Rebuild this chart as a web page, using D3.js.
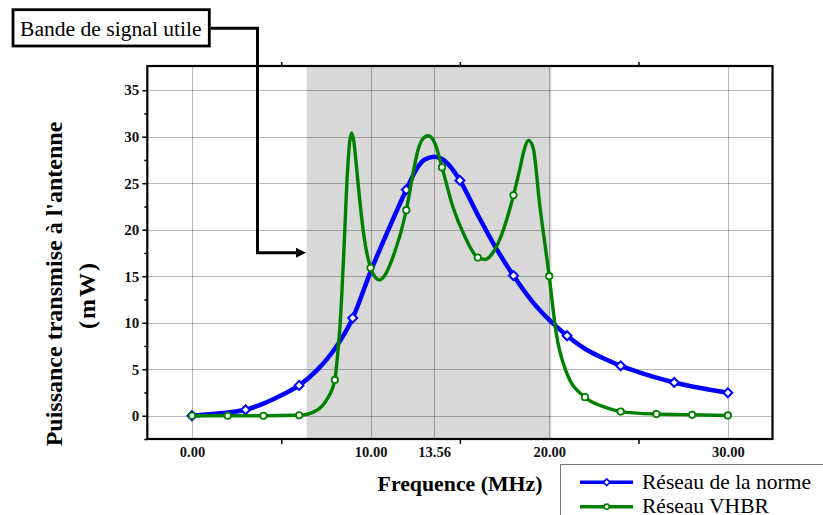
<!DOCTYPE html>
<html><head><meta charset="utf-8">
<script src="https://cdn.jsdelivr.net/npm/d3@7"></script>
<style>body{margin:0;background:#fff}svg{display:block}</style>
</head><body>
<svg id="c" width="823" height="515"></svg>
<script>
// ---- data ----
const normeX = [0,1,2,3,4,5,6,7,8,9,10,11,12,12.6,13,13.56,14,14.5,15,16,17,18,19,20,21,22,23,24,25,26,27,28,29,30];
const normeY = [0,0.15,0.35,0.64,1.3,2.2,3.26,4.9,7.2,10.5,15.5,20,24.3,26.6,27.5,27.85,27.6,26.7,25.3,21.6,18.1,15.07,12.4,10.3,8.6,7.2,6.2,5.37,4.7,4.1,3.58,3.15,2.8,2.47];
const normeMarkers = [0,3,6,9,12,15,18,21,24,27,30];

const vhbrX = [0,2,4,6,7,7.5,8,8.15,8.3,8.5,8.7,8.82,8.94,9.06,9.2,9.35,9.63,10,10.3,10.5,10.8,11.26,12,12.4,12.66,12.9,13.22,13.6,14,14.6,15.27,16,16.4,16.8,17.22,18,18.34,18.6,18.84,19.1,19.46,20,20.39,21,22,23,24,26,28,30];
const vhbrY = [0,0,0,0.05,0.6,1.6,3.85,6.5,10,17.5,26,29.3,30.4,29.5,27,24,19.3,15.9,14.8,14.6,15.1,17.1,22.1,26.3,28.6,29.7,30.1,29.3,26.7,22.5,19.3,17.0,16.8,17.4,18.9,23.7,26.4,28.6,29.6,28.8,22.8,15.0,8.9,4.5,2.0,1.0,0.45,0.18,0.1,0.03];
const vhbrMarkers = [0,2,4,6,8,10,12,14,16,18,20,22,24,26,28,30];

const xTickValues = [0,10,13.56,20,30];
const xMinorTicks = [5,15,25];
const yTickValues = [0,5,10,15,20,25,30,35];
const bandRange = [6.42,20.12];
const seriesNames = ["Réseau de la norme","Réseau VHBR"];

// ---- layout ----
const svg = d3.select("#c");
const L=147.3, R=772.5, T=66, B=439;
const x = d3.scaleLinear().domain([-2.5,32.5]).range([L,R]);
const y = d3.scaleLinear().domain([-2.5,37.6]).range([B,T]);
const serif = "'Liberation Serif','Times New Roman',serif";

// shaded band
svg.append("rect").attr("x",x(bandRange[0])).attr("y",T)
  .attr("width",x(bandRange[1])-x(bandRange[0])).attr("height",B-T).attr("fill","#d8d8d8");

// grid
const grid = svg.append("g").attr("stroke","#000").attr("stroke-opacity",0.28).attr("stroke-width",1);
yTickValues.forEach(v=>grid.append("line").attr("x1",L).attr("x2",R).attr("y1",Math.round(y(v))+0.5).attr("y2",Math.round(y(v))+0.5));
xTickValues.forEach(v=>grid.append("line").attr("y1",T).attr("y2",B).attr("x1",Math.round(x(v))+0.5).attr("x2",Math.round(x(v))+0.5));

// axes
const fmt = d3.format(".2f");
const xAxis = svg.append("g").attr("transform",`translate(0,${B})`)
  .call(d3.axisBottom(x).tickValues(xTickValues).tickFormat(fmt).tickSize(0).tickPadding(8));
xAxis.select(".domain").remove();
xAxis.selectAll("text").attr("font-family",serif).attr("font-weight","bold").attr("font-size",14.5).attr("fill","#111");
const xMinor = svg.append("g").attr("transform",`translate(0,${B})`)
  .call(d3.axisBottom(x).tickValues(xMinorTicks).tickFormat("").tickSize(5));
xMinor.select(".domain").remove();
xMinor.selectAll("line").attr("stroke-width",1.5);
const xTop = svg.append("g").attr("transform",`translate(0,${T})`)
  .call(d3.axisTop(x).tickValues(xMinorTicks).tickFormat("").tickSize(4));
xTop.select(".domain").remove();
xTop.selectAll("line").attr("stroke-width",1.5);

const yAxis = svg.append("g").attr("transform",`translate(${L},0)`)
  .call(d3.axisLeft(y).tickValues(yTickValues).tickFormat(d3.format("d")).tickSize(5).tickPadding(3));
yAxis.select(".domain").remove();
yAxis.selectAll("line").attr("stroke-width",1.5);
yAxis.selectAll("text").attr("font-family",serif).attr("font-weight","bold").attr("font-size",15).attr("fill","#111");
const yMinor = svg.append("g").attr("transform",`translate(${L},0)`)
  .call(d3.axisLeft(y).tickValues(d3.range(-2.5,37.5,5)).tickFormat("").tickSize(3));
yMinor.select(".domain").remove();
yMinor.selectAll("line").attr("stroke-width",1.5);

// frame
svg.append("rect").attr("x",L).attr("y",T).attr("width",R-L).attr("height",B-T)
  .attr("fill","none").attr("stroke","#000").attr("stroke-width",2.2);

// series
const line = d3.line().x(d=>x(d[0])).y(d=>y(d[1])).curve(d3.curveMonotoneX);
const norme = normeX.map((v,i)=>[v,normeY[i]]);
const vhbr = vhbrX.map((v,i)=>[v,vhbrY[i]]);
const plot = svg.append("g");

function drawSeries(data, markersX, color, width, shape){
  plot.append("path").datum(data).attr("d",line).attr("fill","none")
    .attr("stroke",color).attr("stroke-width",width).attr("stroke-linejoin","round");
  const pts = markersX.map(mx=>data.find(d=>d[0]===mx));
  if(shape==="diamond"){
    plot.selectAll(null).data(pts).enter().append("path")
      .attr("d",d3.symbol(d3.symbolSquare,40)())
      .attr("transform",d=>`translate(${x(d[0])},${y(d[1])}) rotate(45)`)
      .attr("fill","#fff").attr("stroke",color).attr("stroke-width",2);
  } else {
    plot.selectAll(null).data(pts).enter().append("circle")
      .attr("cx",d=>x(d[0])).attr("cy",d=>y(d[1])).attr("r",3.2)
      .attr("fill","#fff").attr("stroke",color).attr("stroke-width",1.8);
  }
}
drawSeries(norme, normeMarkers, "#0000ff", 4.5, "diamond");
drawSeries(vhbr, vhbrMarkers, "#008000", 3.4, "circle");

// axis titles
svg.append("text").attr("x",460).attr("y",491).attr("text-anchor","middle")
  .attr("font-family",serif).attr("font-weight","bold").attr("font-size",21.8).text("Frequence (MHz)");
svg.append("text").attr("transform","translate(62,284) rotate(-90)").attr("text-anchor","middle")
  .attr("font-family",serif).attr("font-weight","bold").attr("font-size",24).text("Puissance transmise à l'antenne");
svg.append("text").attr("transform","translate(95,295) rotate(-90)").attr("text-anchor","middle")
  .attr("font-family",serif).attr("font-weight","bold").attr("font-size",24).attr("letter-spacing",2).text("(mW)");

// annotation
svg.append("rect").attr("x",13).attr("y",9.7).attr("width",196.3).attr("height",36.3)
  .attr("fill","#fff").attr("stroke","#000").attr("stroke-width",2.8);
svg.append("text").attr("x",20).attr("y",36).attr("font-family",serif).attr("font-size",21.6).text("Bande de signal utile");
svg.append("path").attr("d",`M210.5,28.3 H257.5 V252.7 H297`).attr("fill","none").attr("stroke","#000").attr("stroke-width",3);
svg.append("path").attr("d","M296,247.7 L306,252.7 L296,257.7 Z").attr("fill","#000");

// legend
const lg = svg.append("g");
lg.append("rect").attr("x",560.5).attr("y",464.5).attr("width",280).attr("height",70)
  .attr("fill","#fff").attr("stroke","#777").attr("stroke-width",1);
const legendItems = [
  {name:seriesNames[0], color:"#0000ff", shape:"diamond", yy:482.3},
  {name:seriesNames[1], color:"#008000", shape:"circle", yy:506.7}
];
legendItems.forEach(it=>{
  lg.append("line").attr("x1",580).attr("x2",633).attr("y1",it.yy).attr("y2",it.yy)
    .attr("stroke",it.color).attr("stroke-width",3.5);
  if(it.shape==="diamond"){
    lg.append("path").attr("d",d3.symbol(d3.symbolSquare,22)())
      .attr("transform",`translate(606.7,${it.yy}) rotate(45)`)
      .attr("fill","#fff").attr("stroke",it.color).attr("stroke-width",1.6);
  } else {
    lg.append("circle").attr("cx",606.7).attr("cy",it.yy).attr("r",2.6)
      .attr("fill","#fff").attr("stroke",it.color).attr("stroke-width",1.6);
  }
  lg.append("text").attr("x",642).attr("y",it.yy+6.5).attr("font-family",serif).attr("font-size",21.5).text(it.name);
});
</script>
</body></html>
